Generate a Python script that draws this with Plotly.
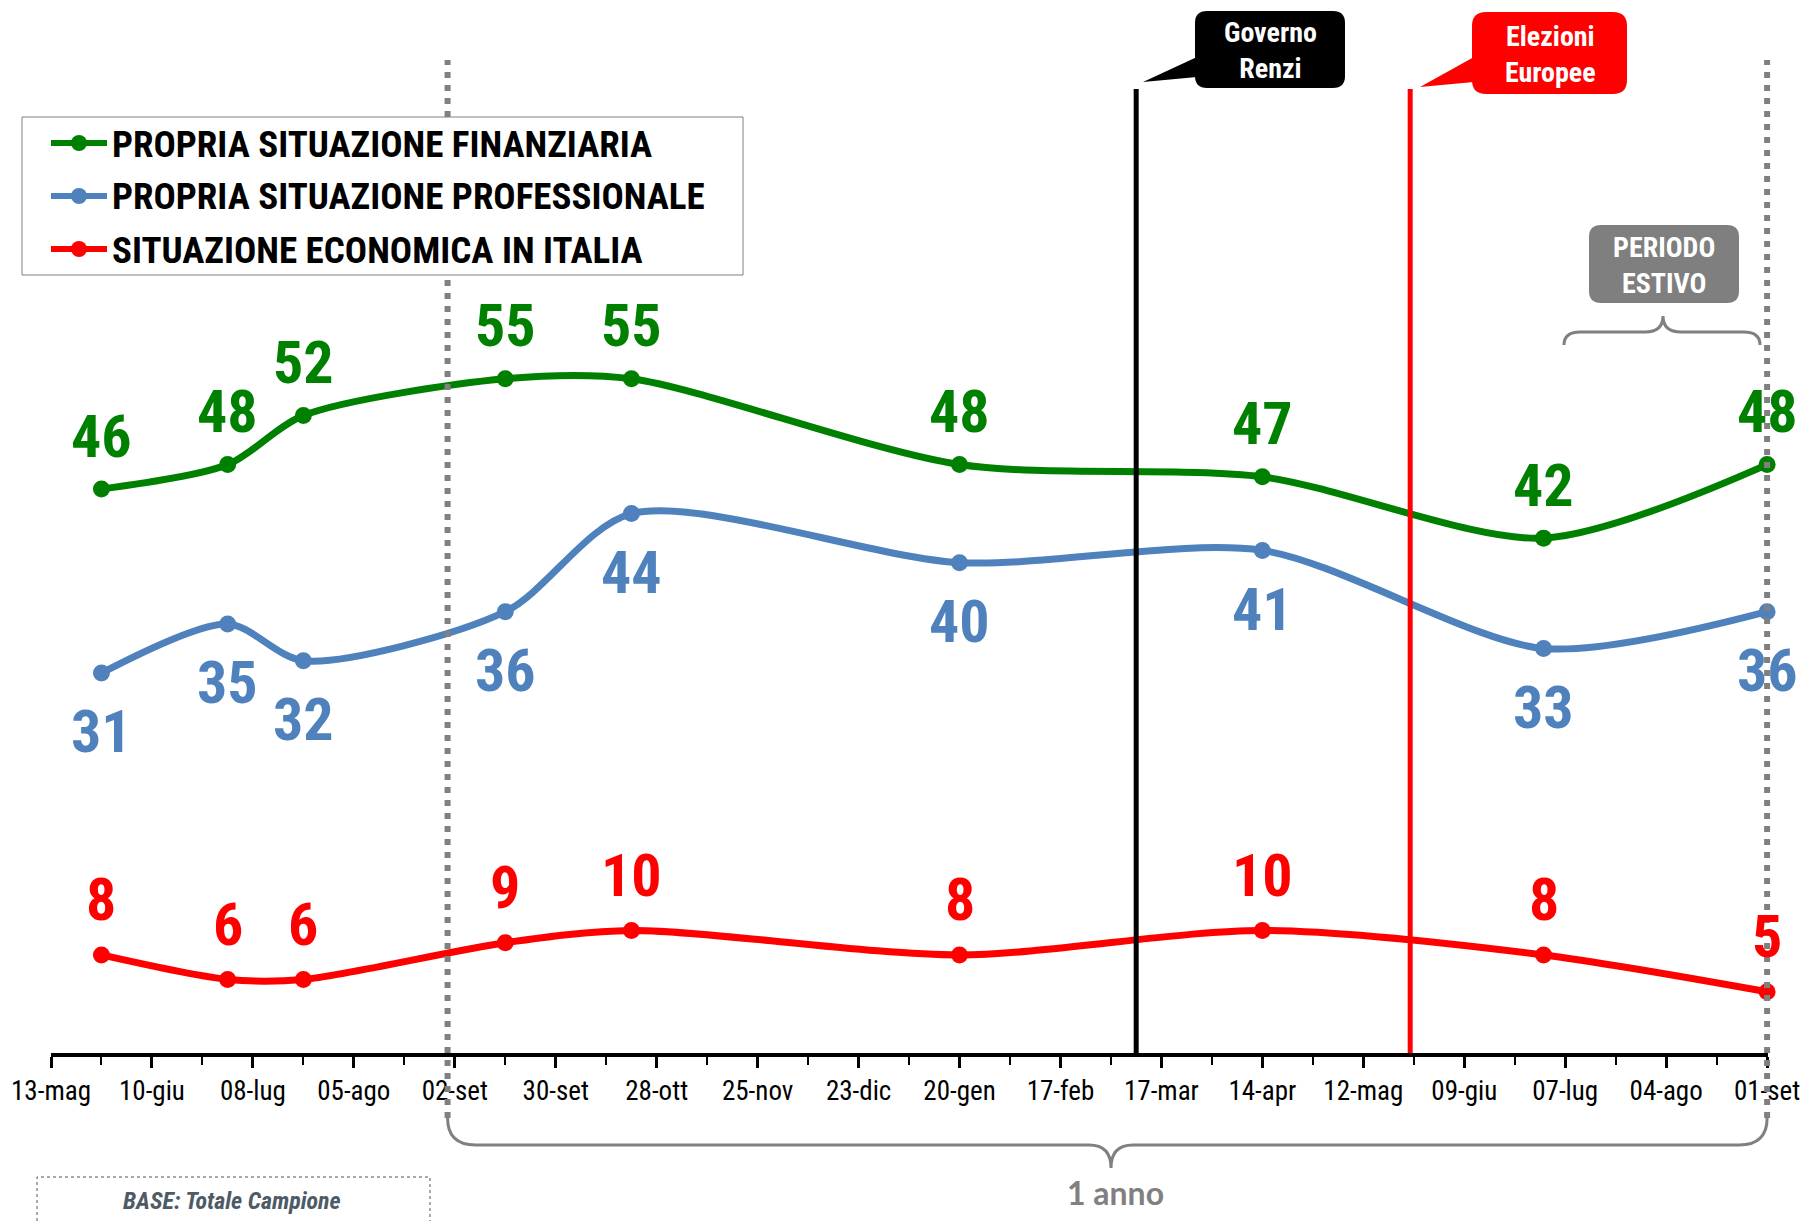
import plotly.graph_objects as go
from datetime import datetime

# survey dates and values
dates = ["2013-05-27", "2013-07-01", "2013-07-22", "2013-09-16", "2013-10-21",
         "2014-01-20", "2014-04-14", "2014-07-01", "2014-09-01"]
finanziaria = [46, 48, 52, 55, 55, 48, 47, 42, 48]
professionale = [31, 35, 32, 36, 44, 40, 41, 33, 36]
italia = [8, 6, 6, 9, 10, 8, 10, 8, 5]

tick_dates = ["2013-05-13", "2013-06-10", "2013-07-08", "2013-08-05", "2013-09-02",
              "2013-09-30", "2013-10-28", "2013-11-25", "2013-12-23", "2014-01-20",
              "2014-02-17", "2014-03-17", "2014-04-14", "2014-05-12", "2014-06-09",
              "2014-07-07", "2014-08-04", "2014-09-01"]
tick_labels = ["13-mag", "10-giu", "08-lug", "05-ago", "02-set", "30-set", "28-ott",
               "25-nov", "23-dic", "20-gen", "17-feb", "17-mar", "14-apr", "12-mag",
               "09-giu", "07-lug", "04-ago", "01-set"]

renzi_date = "2014-03-10"
europee_date = "2014-05-25"
anno_start, anno_end = "2013-08-31", "2014-09-01"

NARROW = "Liberation Sans Narrow, Arial Narrow, Roboto Condensed, DejaVu Sans Condensed, sans-serif"
GREEN, BLUE, RED, GREY = "#008000", "#4F81BD", "#FF0000", "#808080"

W, H = 1806, 1221
L, R, T, B = 51, 38, 11, 168
PW, PH = W - L - R, H - T - B
x_range = [tick_dates[0], "2014-09-01 06:00"]


def px(x):
    return (x - L) / PW


def py(y):
    return (H - B - y) / PH


def dx(d):
    # date -> paper x
    t0 = datetime.fromisoformat(x_range[0])
    t1 = datetime.fromisoformat(x_range[1])
    return (datetime.fromisoformat(d) - t0) / (t1 - t0)


def path(points):
    # points in screen pixels -> paper coordinates
    out = []
    for cmd, *xy in points:
        pairs = [f"{px(xy[i]):.5f},{py(xy[i+1]):.5f}" for i in range(0, len(xy), 2)]
        out.append(cmd + " " + " ".join(pairs))
    return " ".join(out)


def rounded(x0, y0, x1, y1, r):
    return path([("M", x0 + r, y0), ("L", x1 - r, y0), ("Q", x1, y0, x1, y0 + r),
                 ("L", x1, y1 - r), ("Q", x1, y1, x1 - r, y1), ("L", x0 + r, y1),
                 ("Q", x0, y1, x0, y1 - r), ("L", x0, y0 + r), ("Q", x0, y0, x0 + r, y0)]) + " Z"


fig = go.Figure()
series = [("PROPRIA SITUAZIONE FINANZIARIA", finanziaria, GREEN, -53),
          ("PROPRIA SITUAZIONE PROFESSIONALE", professionale, BLUE, 59),
          ("SITUAZIONE ECONOMICA IN ITALIA", italia, RED, -55)]
for name, vals, col, shift in series:
    fig.add_trace(go.Scatter(
        x=dates, y=vals, name=name, mode="lines+markers", showlegend=False,
        line=dict(color=col, width=7, shape="spline", smoothing=0.8),
        marker=dict(size=17, color=col), cliponaxis=False, hoverinfo="skip"))
    for d, v in zip(dates, vals):
        fig.add_annotation(x=d, y=v, text=f"<b>{v}</b>", showarrow=False,
                           yshift=-shift, yanchor="middle",
                           font=dict(family=NARROW, size=60, color=col))

shapes = []
# dotted "1 anno" markers
for d in (anno_start, anno_end):
    shapes.append(dict(type="line", xref="paper", yref="paper", x0=dx(d), x1=dx(d),
                       y0=py(1118), y1=py(60),
                       line=dict(color=GREY, width=6, dash="6px,7px"), layer="above"))
# event lines
shapes.append(dict(type="line", xref="x", yref="paper", x0=renzi_date, x1=renzi_date,
                   y0=0, y1=py(89), line=dict(color="black", width=5), layer="above"))
shapes.append(dict(type="line", xref="x", yref="paper", x0=europee_date, x1=europee_date,
                   y0=0, y1=py(89), line=dict(color=RED, width=5), layer="above"))

# brace under the axis
xl, xr, xc = L + dx(anno_start) * PW, L + dx(anno_end) * PW, 1111
shapes.append(dict(type="path", xref="paper", yref="paper", line=dict(color=GREY, width=3),
                   path=path([("M", xl, 1118), ("Q", xl, 1145, xl + 28, 1145),
                              ("L", xc - 22, 1145), ("Q", xc, 1145, xc, 1168),
                              ("Q", xc, 1145, xc + 22, 1145), ("L", xr - 28, 1145),
                              ("Q", xr, 1145, xr, 1118)])))
# summer brace
shapes.append(dict(type="path", xref="paper", yref="paper", line=dict(color=GREY, width=3),
                   path=path([("M", 1564, 345), ("Q", 1564, 332, 1580, 332),
                              ("L", 1645, 332), ("Q", 1663, 332, 1663, 316),
                              ("Q", 1663, 332, 1681, 332), ("L", 1744, 332),
                              ("Q", 1760, 332, 1760, 345)])))
# callout boxes
shapes.append(dict(type="path", xref="paper", yref="paper", fillcolor="black",
                   line=dict(width=0), path=rounded(1195, 11, 1345, 88, 12)))
shapes.append(dict(type="path", xref="paper", yref="paper", fillcolor="black",
                   line=dict(width=0),
                   path=path([("M", 1197, 57), ("L", 1143, 82), ("L", 1197, 77)]) + " Z"))
shapes.append(dict(type="path", xref="paper", yref="paper", fillcolor=RED,
                   line=dict(width=0), path=rounded(1472, 12, 1627, 94, 14)))
shapes.append(dict(type="path", xref="paper", yref="paper", fillcolor=RED,
                   line=dict(width=0),
                   path=path([("M", 1474, 57), ("L", 1420, 87), ("L", 1474, 82)]) + " Z"))
shapes.append(dict(type="path", xref="paper", yref="paper", fillcolor="#7F7F7F",
                   line=dict(width=0), path=rounded(1589, 225, 1739, 303, 12)))
# base box
shapes.append(dict(type="rect", xref="paper", yref="paper",
                   x0=px(37), x1=px(430), y0=py(1226), y1=py(1177),
                   line=dict(color="#555555", width=1, dash="dot")))

# legend box drawn by hand (longer line symbols than plotly's own legend)
shapes.append(dict(type="rect", xref="paper", yref="paper", layer="above",
                   x0=px(22), x1=px(743), y0=py(275), y1=py(117),
                   fillcolor="white", line=dict(color=GREY, width=1)))
for i, (name, vals, col, shift) in enumerate(series):
    yy = 143 + i * 53
    shapes.append(dict(type="line", xref="paper", yref="paper", layer="above",
                       x0=px(51), x1=px(107), y0=py(yy), y1=py(yy),
                       line=dict(color=col, width=6)))
    shapes.append(dict(type="circle", xref="paper", yref="paper", layer="above",
                       x0=px(71), x1=px(87), y0=py(yy + 8), y1=py(yy - 8),
                       fillcolor=col, line=dict(width=0)))
    fig.add_annotation(x=px(110), y=py(yy + 1), xref="paper", yref="paper",
                       text=f"<b>{name}</b>", showarrow=False,
                       xanchor="left", yanchor="middle",
                       font=dict(family=NARROW, size=37, color="black"))

annots = [
    dict(x=px(1270), y=py(50), text="<b>Governo<br>Renzi</b>", color="white", size=28, fam=NARROW),
    dict(x=px(1550), y=py(54), text="<b>Elezioni<br>Europee</b>", color="white", size=28, fam=NARROW),
    dict(x=px(1664), y=py(265), text="<b>PERIODO<br>ESTIVO</b>", color="white", size=28, fam=NARROW),
    dict(x=px(1115), y=py(1192), text="<b>1 anno</b>", color=GREY, size=32, fam="Lato, sans-serif"),
    dict(x=px(232), y=py(1201), text="<b><i>BASE: Totale Campione</i></b>", color="#4E5B66", size=24, fam=NARROW),
]
for a in annots:
    fig.add_annotation(x=a["x"], y=a["y"], xref="paper", yref="paper", text=a["text"],
                       showarrow=False, xanchor="center", yanchor="middle",
                       font=dict(family=a["fam"], size=a["size"], color=a["color"]))

fig.update_layout(
    width=W, height=H,
    margin=dict(l=L, r=R, t=T, b=B, autoexpand=False),
    paper_bgcolor="white", plot_bgcolor="white",
    shapes=shapes,
    showlegend=False,
    xaxis=dict(type="date", range=x_range,
               tickvals=tick_dates, ticktext=tick_labels, automargin=False,
               showline=True, linecolor="black", linewidth=4,
               ticks="outside", ticklen=11, tickwidth=3, tickcolor="black",
               minor=dict(ticks="outside", ticklen=8, tickwidth=2, tickcolor="black",
                          dtick=14 * 86400000, tick0=tick_dates[0], showgrid=False),
               tickfont=dict(family=NARROW, size=27, color="black"),
               showgrid=False, zeroline=False, fixedrange=True),
    yaxis=dict(range=[0, 85], visible=False, fixedrange=True),
)

# drop the default page margin so the figure sits at the window corner
fig.write_html("out.html", config={"displayModeBar": False},
               post_script="document.body.style.margin='0';")
